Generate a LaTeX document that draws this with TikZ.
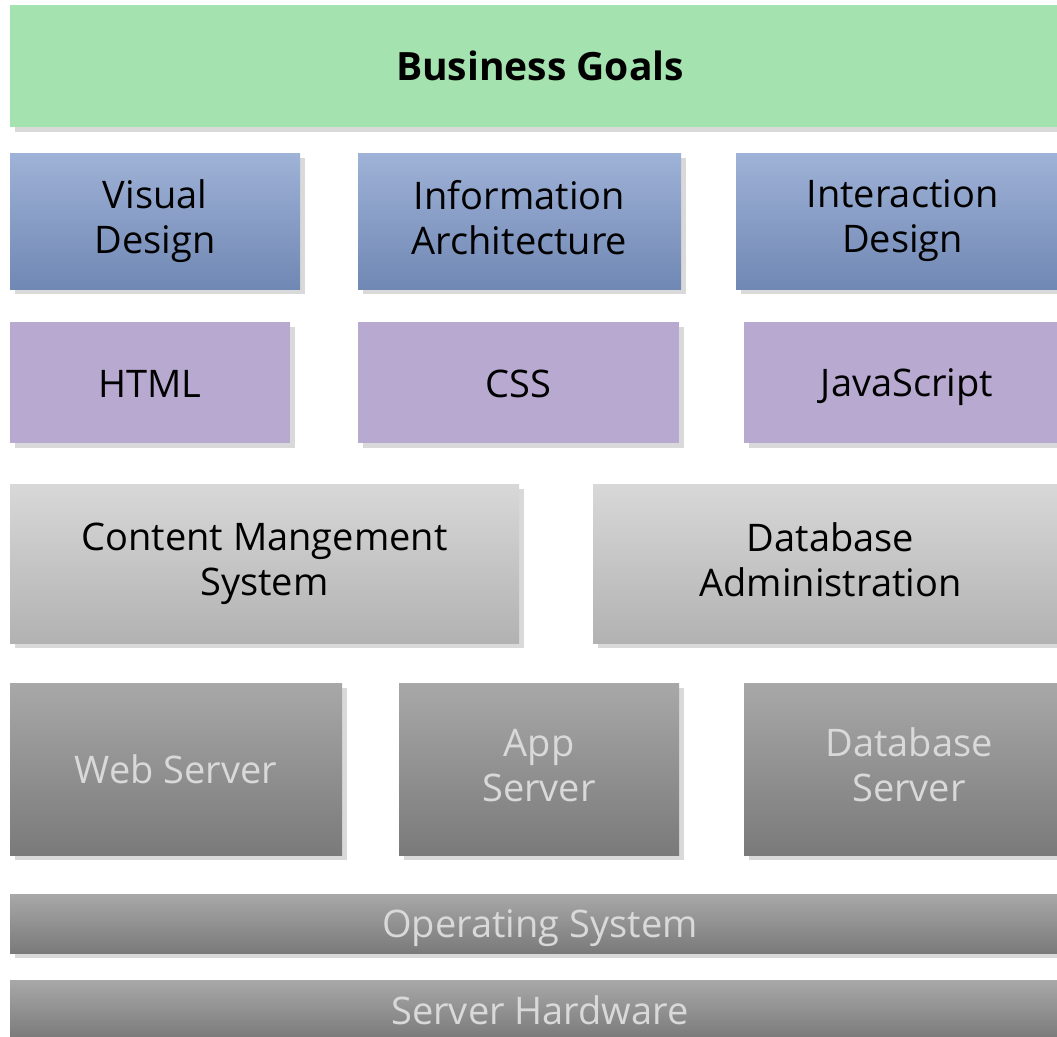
\documentclass[tikz,border=0pt]{standalone}
\usepackage{fontspec}
\setmainfont{Open Sans}
\usetikzlibrary{shadows}

\definecolor{goalgreen}{HTML}{A4E2B0}
\definecolor{bluetop}{HTML}{9FB2D7}
\definecolor{bluebot}{HTML}{7088B4}
\definecolor{codepurple}{HTML}{B8A9D0}
\definecolor{ltgraytop}{HTML}{D8D8D8}
\definecolor{ltgraybot}{HTML}{B2B2B2}
\definecolor{dkgraytop}{HTML}{A8A8A8}
\definecolor{dkgraybot}{HTML}{7A7A7A}
\definecolor{srvtext}{HTML}{D9D9D9}

\newcommand{\layerstrut}{\rule[-8pt]{0pt}{45pt}}

\tikzset{
  layer/.style={anchor=north west,inner sep=0pt,outer sep=0pt,align=center,
    font=\fontsize{38}{45}\selectfont,
    execute at begin node=\layerstrut,execute at end node=\layerstrut,
    drop shadow={shadow xshift=5pt,shadow yshift=-5pt,fill=black!15,opacity=1}},
  goalbox/.style={layer,fill=goalgreen,font=\fontsize{39}{45}\selectfont\bfseries},
  designbox/.style={layer,top color=bluetop,bottom color=bluebot},
  codebox/.style={layer,fill=codepurple},
  appbox/.style={layer,top color=ltgraytop,bottom color=ltgraybot},
  serverbox/.style={layer,top color=dkgraytop,bottom color=dkgraybot,text=srvtext},
}

\begin{document}
\begin{tikzpicture}[x=1pt,y=-1pt]
  \useasboundingbox[fill=white] (0,0) rectangle (1057,1036);

  % Ziele
  \node[goalbox,minimum width=1060pt,minimum height=122pt] (goals) at (10,5) {Business Goals};

  % Gestaltung
  \node[designbox,minimum width=290pt,minimum height=136pt] (visual) at (10,153) {Visual\\Design};
  \node[designbox,minimum width=323pt,minimum height=136pt] (info) at (358,153) {Information\\Architecture};
  \node[designbox,minimum width=333pt,minimum height=136pt] (inter) at (736,153) {Interaction\\Design};

  % Frontend
  \node[codebox,minimum width=280pt,minimum height=121pt] (html) at (10,322) {HTML};
  \node[codebox,minimum width=321pt,minimum height=121pt] (css) at (358,322) {CSS};
  \node[codebox,minimum width=326pt,minimum height=121pt] (js) at (744,322) {JavaScript};

  % Anwendungen
  \node[appbox,minimum width=509pt,minimum height=159pt] (cms) at (10,484) {Content Mangement\\System};
  \node[appbox,minimum width=475pt,minimum height=159pt] (dba) at (593,484) {Database\\Administration};

  % Server
  \node[serverbox,minimum width=332pt,minimum height=172pt] (web) at (10,683) {Web Server};
  \node[serverbox,minimum width=280pt,minimum height=172pt] (app) at (399,683) {App\\Server};
  \node[serverbox,minimum width=330pt,minimum height=172pt] (dbs) at (744,683) {Database\\Server};

  % Basis
  \node[serverbox,minimum width=1060pt,minimum height=59pt] (os) at (10,894) {Operating System};
  \node[serverbox,minimum width=1060pt,minimum height=59pt] (hw) at (10,980) {Server Hardware};
\end{tikzpicture}
\end{document}
